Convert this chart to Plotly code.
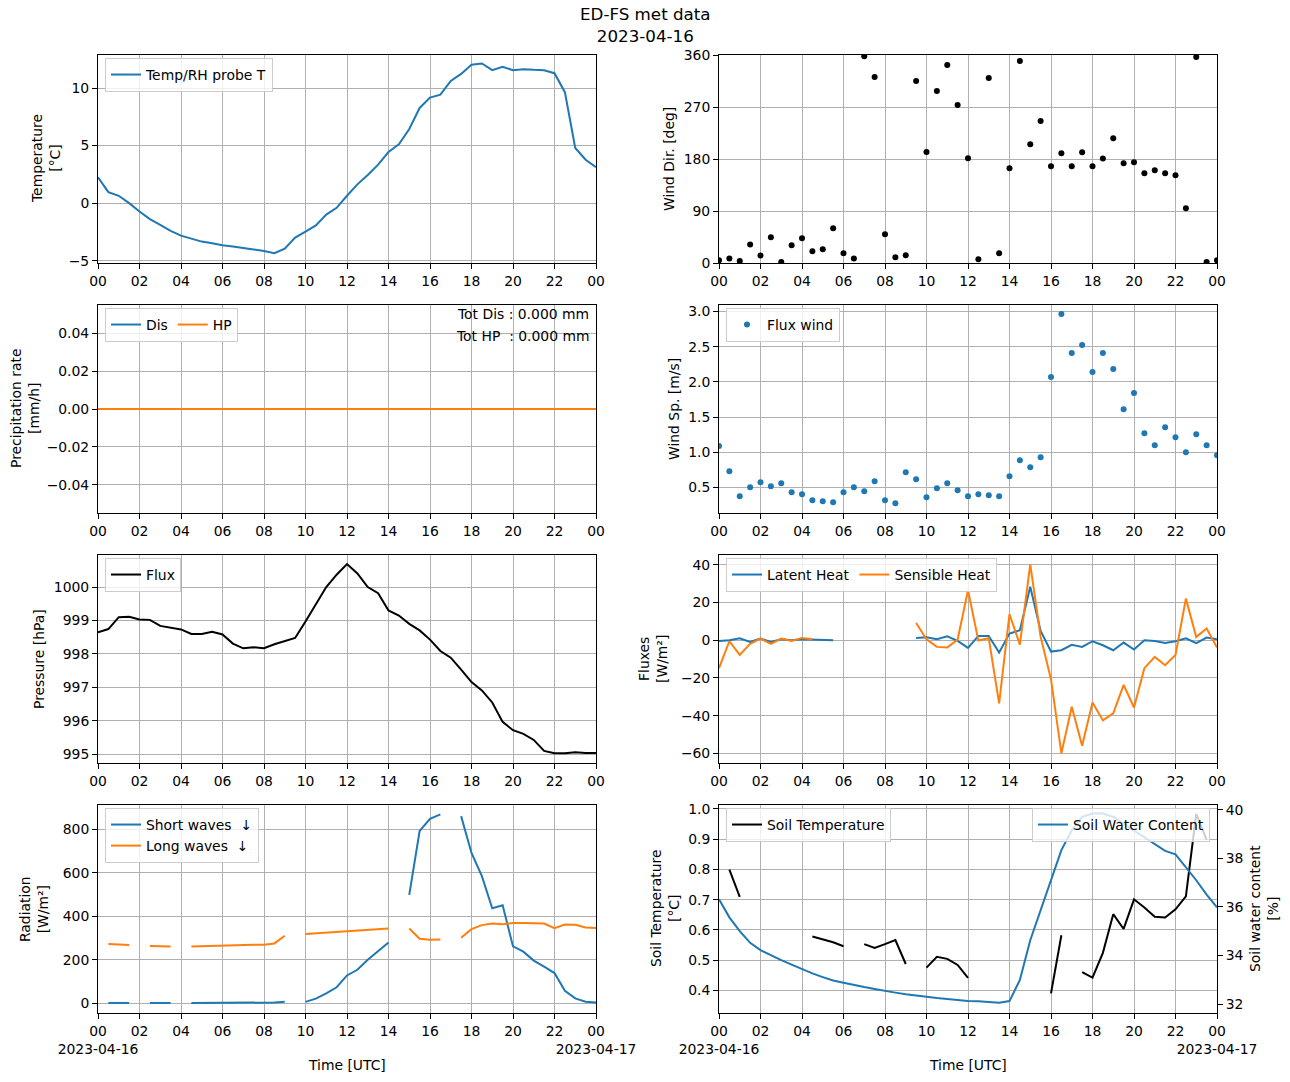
import pandas as pd
import plotly.graph_objects as go

# ---------------- data ----------------
TIMES = pd.date_range("2023-04-16 00:00", periods=49, freq="30min")
N = None

temp_T = [2.24, 0.96, 0.64, 0.0, -0.73, -1.39, -1.89, -2.41, -2.82, -3.08, -3.34, -3.48, -3.66,
          -3.77, -3.92, -4.03, -4.15, -4.35, -3.95, -2.99, -2.47, -1.94, -0.99, -0.41, 0.64,
          1.63, 2.44, 3.34, 4.44, 5.11, 6.44, 8.27, 9.17, 9.43, 10.62, 11.23, 12.02, 12.13,
          11.55, 11.84, 11.55, 11.64, 11.58, 11.55, 11.29, 9.64, 4.79, 3.77, 3.13]

wind_dir = [4.6, 8, 3.5, 32, 13, 44.5, 1.7, 30.6, 42.8, 20.2, 23.7, 60, 16.8, 8, 358, 322,
            49.7, 9.8, 13.3, 315, 192, 297.6, 342.7, 273.3, 181.4, 6.4, 320, 16.8, 164, 349.6,
            205.7, 245.6, 167.6, 190, 167.6, 191.8, 167.6, 180.9, 216, 172.8, 174.5, 155.4,
            160.6, 155.4, 152, 94.8, 356.5, 1.7, 4.6]

precip_dis = [0.0] * 49
precip_hp = [0.0] * 49
tot_dis = 0.0
tot_hp = 0.0

wind_sp = [1.089, 0.728, 0.372, 0.5, 0.571, 0.514, 0.557, 0.429, 0.4, 0.315, 0.3, 0.286,
           0.429, 0.5, 0.443, 0.586, 0.315, 0.272, 0.714, 0.614, 0.357, 0.486, 0.557, 0.457,
           0.372, 0.4, 0.386, 0.372, 0.657, 0.885, 0.785, 0.928, 2.068, 2.966, 2.41, 2.524,
           2.139, 2.41, 2.182, 1.612, 1.84, 1.27, 1.099, 1.355, 1.213, 1.0, 1.255, 1.099, 0.956]

pressure = [998.645, 998.745, 999.10, 999.11, 999.03, 999.02, 998.84, 998.79, 998.735, 998.6,
            998.6, 998.665, 998.585, 998.31, 998.17, 998.2, 998.17, 998.29, 998.38, 998.48,
            998.97, 999.5, 1000.0, 1000.37, 1000.69, 1000.41, 1000.0, 999.82, 999.30, 999.15,
            998.9, 998.705, 998.43, 998.09, 997.89, 997.53, 997.16, 996.91, 996.55, 995.97,
            995.72, 995.61, 995.43, 995.1, 995.03, 995.03, 995.06, 995.04, 995.04]

latent = [-0.35, 0.0, 1.06, -0.88, 0.88, -0.88, 0.53, 0.0, 0.53, 0.35, 0.0, 0.0,
          N, N, N, N, N, N, N,
          1.24, 1.59, 0.53, 2.1, -0.35, -4.06, 2.3, 2.3, -6.5, 3.53, 5.3, 28.4, 4.94, -6.0,
          -5.3, -2.47, -3.53, -0.53, -2.65, -5.3, -1.24, -4.94, 0.0, -0.35, -1.41, -0.53,
          1.06, -1.59, 1.41, 0.53]

sensible = [-14.8, -0.53, -7.77, -1.94, 0.88, -1.94, 0.88, -0.35, 1.24, 0.53,
            N, N, N, N, N, N, N, N, N,
            9.18, 0.53, -3.53, -3.88, 0.35, 26.5, -0.18, 1.06, -33.5, 13.8, -2.3, 40.2, 1.77,
            -20.65, -60.0, -35.3, -56.0, -33.0, -42.5, -38.8, -23.65, -35.66, -14.8, -8.83,
            -13.24, -7.77, 22.07, 1.77, 6.18, -3.88]

short_wave = [N, 3, 3, 3, N, 3, 3, 3, N, 3, 3, 3, 3, 3, 3, 3, 3, 5, 8, N, 8, 23, 47, 75, 129,
              155, 201, 242, 280, N, 498, 791, 847, 867, N, 859, 690, 584, 437, 451, 262, 238,
              197, 169, 140, 59, 24, 9, 5]

long_wave = [N, 272.8, 269.7, 268.2, N, 263.6, 262, 262, N, 262, 263.6, 265, 266.7, 268.2,
             269.7, 269.7, 269.7, 275.8, 310.9, N, 318.5, 321.5, 326, 329, 332, 333.7, 335.2,
             338.3, 344.4, N, 344.4, 297, 292.6, 294, N, 301.7, 341.3, 359.6, 367.2, 364.2,
             368.8, 368.8, 368.8, 367.2, 346, 362.7, 361, 349, 346]

soil_temp = [N, 0.799, 0.709, N, N, N, N, N, N, 0.578, 0.568, 0.559, 0.546, N, 0.553, 0.540,
             0.553, 0.566, 0.487, N, 0.475, 0.511, 0.504, 0.484, 0.441, N, N, N, N, N, N, N,
             0.390, 0.582, N, 0.460, 0.442, 0.524, 0.652, 0.603, 0.701, 0.674, 0.643, 0.641,
             0.668, 0.711, 0.984, 0.898, N]

soil_water = [36.32, 35.57, 35.0, 34.52, 34.22, 34.0, 33.81, 33.62, 33.43, 33.26, 33.11, 32.97,
              32.88, 32.78, 32.70, 32.62, 32.53, 32.47, 32.40, 32.34, 32.30, 32.25, 32.21, 32.16,
              32.12, 32.11, 32.08, 32.05, 32.12, 32.99, 34.63, 35.87, 37.17, 38.34, 39.16, 39.71,
              39.85, 39.85, 39.71, 39.43, 39.16, 38.89, 38.61, 38.31, 38.17, 37.65, 37.10, 36.51,
              35.98]

HOUR_LABELS = ["00", "02", "04", "06", "08", "10", "12", "14", "16", "18", "20", "22", "00"]
DATE_START = "2023-04-16"
DATE_END = "2023-04-17"

# ---------------- layout helpers ----------------
W, H = 1290, 1082
BLUE, ORANGE = "#1f77b4", "#ff7f0e"
FONT = "DejaVu Sans"
FS = 13.9


def px_x(p):
    return p / W


def px_y(p):
    return 1 - p / H


cols = [(98, 596), (719, 1217)]
rows = [(55, 263), (305, 513), (555, 763), (805, 1013)]

tickvals = list(pd.date_range(TIMES[0], TIMES[-1], freq="2h"))

fig = go.Figure()

axis_common = dict(
    showline=True, linecolor="black", linewidth=1, mirror=True,
    ticks="outside", ticklen=5, tickwidth=1, tickcolor="black",
    showgrid=True, gridcolor="#b0b0b0", gridwidth=0.8, zeroline=False,
    tickfont=dict(family=FONT, size=FS, color="black"), automargin=False,
)

layout = {}
for k in range(8):
    r, c = divmod(k, 2)
    idx = k + 1
    xs = "" if idx == 1 else str(idx)
    ticktext = list(HOUR_LABELS)
    if r == 3:
        ticktext[0] = "00<br>" + DATE_START
        ticktext[-1] = "00<br>" + DATE_END
    layout["xaxis" + xs] = dict(
        axis_common, domain=[px_x(cols[c][0]), px_x(cols[c][1])],
        anchor="y" + xs, type="date", range=[TIMES[0], TIMES[-1]],
        tickvals=tickvals, ticktext=ticktext, tickangle=0,
    )
    layout["yaxis" + xs] = dict(
        axis_common, domain=[px_y(rows[r][1]), px_y(rows[r][0])], anchor="x" + xs,
    )

layout["yaxis"].update(range=[-5.2, 12.87], dtick=5, tick0=0)
layout["yaxis2"].update(range=[0, 360], dtick=90, tick0=0)
layout["yaxis3"].update(range=[-0.055, 0.055], dtick=0.02, tick0=0, tickformat=".2f")
layout["yaxis4"].update(range=[0.134, 3.094], dtick=0.5, tick0=0, tickformat=".1f")
layout["yaxis5"].update(range=[994.74, 1000.96], dtick=1, tick0=995)
layout["yaxis6"].update(range=[-65.1, 45.2], dtick=20, tick0=0)
layout["yaxis7"].update(range=[-43, 910], dtick=200, tick0=0)
layout["yaxis8"].update(range=[0.325, 1.013], dtick=0.1, tick0=0, tickformat=".1f")
layout["yaxis9"] = dict(
    axis_common, overlaying="y8", anchor="x8", side="right", mirror=False,
    showgrid=False, range=[31.63, 40.2], dtick=2, tick0=0,
)

# ---------------- traces ----------------
fig.add_trace(go.Scatter(x=TIMES, y=temp_T, mode="lines", name="Temp/RH probe T",
                         line=dict(color=BLUE, width=2), xaxis="x", yaxis="y", legend="legend"))
fig.add_trace(go.Scatter(x=TIMES, y=wind_dir, mode="markers", name="Wind dir",
                         marker=dict(color="black", size=6), xaxis="x2", yaxis="y2",
                         showlegend=False))
fig.add_trace(go.Scatter(x=TIMES, y=precip_dis, mode="lines", name="Dis",
                         line=dict(color=BLUE, width=2), xaxis="x3", yaxis="y3", legend="legend2"))
fig.add_trace(go.Scatter(x=TIMES, y=precip_hp, mode="lines", name="HP",
                         line=dict(color=ORANGE, width=2), xaxis="x3", yaxis="y3", legend="legend2"))
fig.add_trace(go.Scatter(x=TIMES, y=wind_sp, mode="markers", name="Flux wind",
                         marker=dict(color=BLUE, size=6), xaxis="x4", yaxis="y4", legend="legend3"))
fig.add_trace(go.Scatter(x=TIMES, y=pressure, mode="lines", name="Flux",
                         line=dict(color="black", width=2), xaxis="x5", yaxis="y5", legend="legend4"))
fig.add_trace(go.Scatter(x=TIMES, y=latent, mode="lines", name="Latent Heat",
                         line=dict(color=BLUE, width=2), xaxis="x6", yaxis="y6", legend="legend5"))
fig.add_trace(go.Scatter(x=TIMES, y=sensible, mode="lines", name="Sensible Heat",
                         line=dict(color=ORANGE, width=2), xaxis="x6", yaxis="y6", legend="legend5"))
fig.add_trace(go.Scatter(x=TIMES, y=short_wave, mode="lines", name="Short waves\u00a0 ↓",
                         line=dict(color=BLUE, width=2), xaxis="x7", yaxis="y7", legend="legend6"))
fig.add_trace(go.Scatter(x=TIMES, y=long_wave, mode="lines", name="Long waves\u00a0 ↓",
                         line=dict(color=ORANGE, width=2), xaxis="x7", yaxis="y7", legend="legend6"))
fig.add_trace(go.Scatter(x=TIMES, y=soil_temp, mode="lines", name="Soil Temperature",
                         line=dict(color="black", width=2), xaxis="x8", yaxis="y8", legend="legend7"))
fig.add_trace(go.Scatter(x=TIMES, y=soil_water, mode="lines", name="Soil Water Content",
                         line=dict(color=BLUE, width=2), xaxis="x8", yaxis="y9", legend="legend8"))

legend_common = dict(
    bgcolor="rgba(255,255,255,0.8)", bordercolor="#cccccc", borderwidth=1,
    font=dict(family=FONT, size=FS, color="black"), xanchor="left", yanchor="top",
    tracegroupgap=0, itemwidth=30,
)
LT = 3  # legend top offset inside each panel (px)
layout["legend"] = dict(legend_common, x=px_x(105), y=px_y(55 + LT))
layout["legend2"] = dict(legend_common, x=px_x(105), y=px_y(305 + LT), orientation="h")
layout["legend3"] = dict(legend_common, x=px_x(726), y=px_y(305 + LT))
layout["legend4"] = dict(legend_common, x=px_x(105), y=px_y(555 + LT))
layout["legend5"] = dict(legend_common, x=px_x(726), y=px_y(555 + LT), orientation="h")
layout["legend6"] = dict(legend_common, x=px_x(105), y=px_y(805 + LT))
layout["legend7"] = dict(legend_common, x=px_x(726), y=px_y(805 + LT))
layout["legend8"] = dict(legend_common, x=px_x(1210), y=px_y(805 + LT), xanchor="right")

annotations = []


def ann(text, x, y, angle=0, xanchor="center", yanchor="middle", size=FS, align="center"):
    annotations.append(dict(
        text=text, x=px_x(x), y=px_y(y), xref="paper", yref="paper", showarrow=False,
        textangle=angle, xanchor=xanchor, yanchor=yanchor, align=align,
        font=dict(family=FONT, size=size, color="black"),
    ))


ann("ED-FS met data<br>2023-04-16", 645, 25, size=16.7)

ann("Temperature<br>[°C]", 46, 159, angle=-90)
ann("Wind Dir. [deg]", 669, 159, angle=-90)
ann("Precipitation rate<br>[mm/h]", 25, 409, angle=-90)
ann("Wind Sp. [m/s]", 674, 409, angle=-90)
ann("Pressure [hPa]", 39, 659, angle=-90)
ann("Fluxes<br>[W/m²]", 653, 659, angle=-90)
ann("Radiation<br>[W/m²]", 34, 909, angle=-90)
ann("Soil Temperature<br>[°C]", 665, 909, angle=-90)
ann("Soil water content<br>[%]", 1264, 909, angle=-90)
ann("Time [UTC]", 347, 1065)
ann("Time [UTC]", 968, 1065)

ann(f"Tot Dis : {tot_dis:.3f} mm", 591, 314, xanchor="right")
ann(f"Tot HP\u00a0 : {tot_hp:.3f} mm", 591, 336, xanchor="right")

fig.update_layout(
    width=W, height=H, margin=dict(l=0, r=0, t=0, b=0),
    paper_bgcolor="white", plot_bgcolor="white",
    font=dict(family=FONT, size=FS, color="black"),
    annotations=annotations, **layout,
)

fig.write_html(
    "out.html",
    config={"displayModeBar": False},
    post_script="document.body.style.margin='0';document.body.style.overflow='hidden';",
)
